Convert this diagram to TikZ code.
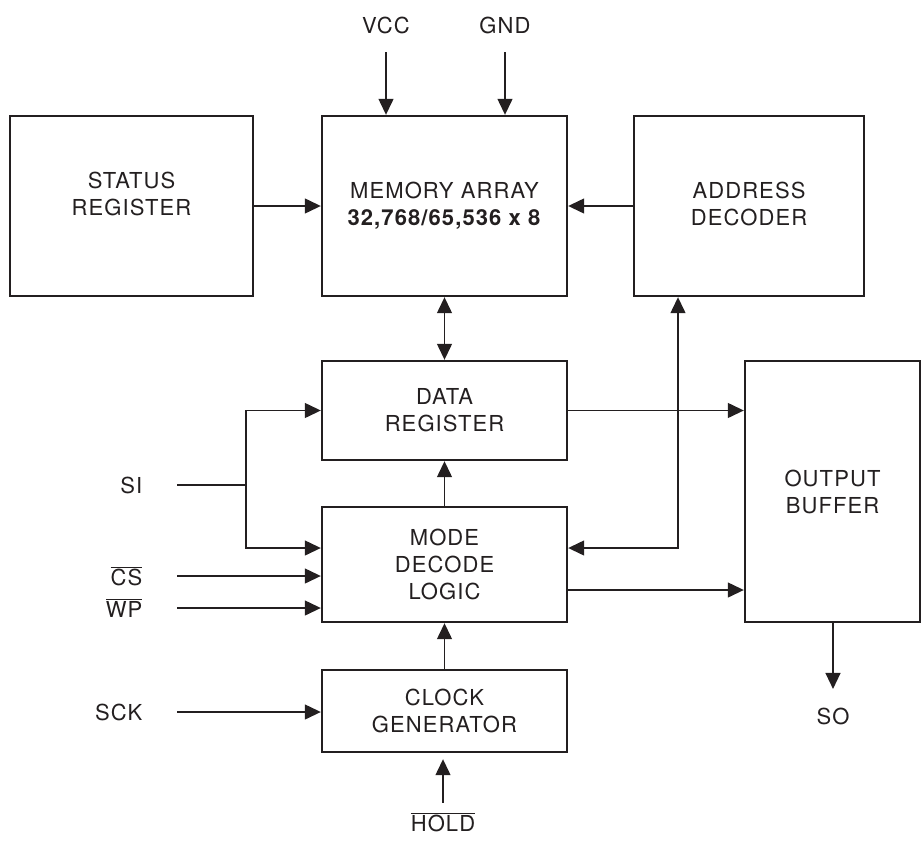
\documentclass[tikz,border=0pt]{standalone}
\usepackage{fontspec}
\setmainfont{TeX Gyre Heros}[LetterSpace=5]
\usetikzlibrary{arrows.meta}

\definecolor{ink}{HTML}{231F20}
\newcommand{\negsig}[1]{$\overline{\mbox{#1}}$}

\begin{document}
\begin{tikzpicture}[x=1pt, y=-1pt, ink, line width=1.3pt,
  blk/.style = {draw=ink, line width=2.4pt, align=center, inner sep=0pt,
                font=\fontsize{22}{27}\selectfont},
  pin/.style = {inner sep=0pt, font=\fontsize{22}{27}\selectfont},
  arr/.style = {-{Triangle[length=16pt, width=15pt]}},
  arrs/.style = {{Triangle[length=16pt, width=15pt]}-{Triangle[length=16pt, width=15pt]}}]

\useasboundingbox (0,0) rectangle (923,846);

% blocks
\node[blk, minimum width=243pt, minimum height=180pt, text depth=24pt] (status) at (131.5,206) {STATUS\\REGISTER};
\node[blk, minimum width=245pt, minimum height=180pt] (mem)    at (444.5,206) {MEMORY ARRAY\\\textbf{32,768/65,536 x 8}};
\node[blk, minimum width=230pt, minimum height=180pt, text depth=4pt] (addr) at (749,206) {ADDRESS\\DECODER};
\node[blk, minimum width=245pt, minimum height=99pt]  (data)   at (444.5,410.5) {DATA\\REGISTER};
\node[blk, minimum width=245pt, minimum height=115pt] (mode)   at (444.5,564.5) {MODE\\DECODE\\LOGIC};
\node[blk, minimum width=245pt, minimum height=82pt]  (clk)    at (444.5,711) {CLOCK\\GENERATOR};
\node[blk, minimum width=175pt, minimum height=261pt] (out)    at (832.5,491.5) {OUTPUT\\BUFFER};

% pins
\node[pin] (vcc)  at (386,25)  {VCC};
\node[pin] (gnd)  at (505,25)  {GND};
\node[pin, anchor=east] (si)  at (143,485) {SI};
\node[pin, anchor=east] (cs)  at (143,576) {\negsig{CS}};
\node[pin, anchor=east] (wp)  at (143,608) {\negsig{WP}};
\node[pin, anchor=east] (sck) at (143,712) {SCK};
\node[pin] (hold) at (443,822) {\negsig{HOLD}};
\node[pin] (so)   at (833,716) {SO};

\coordinate (sibr) at (246,485);

% connections
\draw[arr, shorten <=18pt] (vcc) -- (vcc |- mem.north);
\draw[arr, shorten <=18pt] (gnd) -- (gnd |- mem.north);
\draw[arr] (status) -- (mem);
\draw[arr] (addr) -- (mem);
\draw[arrs] (mem) -- (data);
\draw[arr] (data) -- (out.west |- data);

\draw[shorten <=34pt] (si.east) -- (sibr);
\draw[arr] (sibr) |- (data.west);
\draw[arr] (sibr) |- (mode.west |- 0,548);
\draw[arr, shorten <=34pt] (cs.east) -- (mode.west |- cs.east);
\draw[arr, shorten <=34pt] (wp.east) -- (mode.west |- wp.east);
\draw[arr, shorten <=34pt] (sck.east) -- (clk.west |- sck.east);

\draw[arr] (mode) -- (data);
\draw[arr] (clk) -- (mode);
\draw[arrs] (mode.east |- 0,548) -| (addr.south -| 678,0);
\draw[arr] (mode.east |- 0,590) -- (out.west |- 0,590);
\draw[arr, shorten >=18pt] (out.south -| so) -- (so.north);
\draw[arr, shorten <=9pt, shorten >=6pt] (hold.north) -- (hold.north |- clk.south);

\end{tikzpicture}
\end{document}
